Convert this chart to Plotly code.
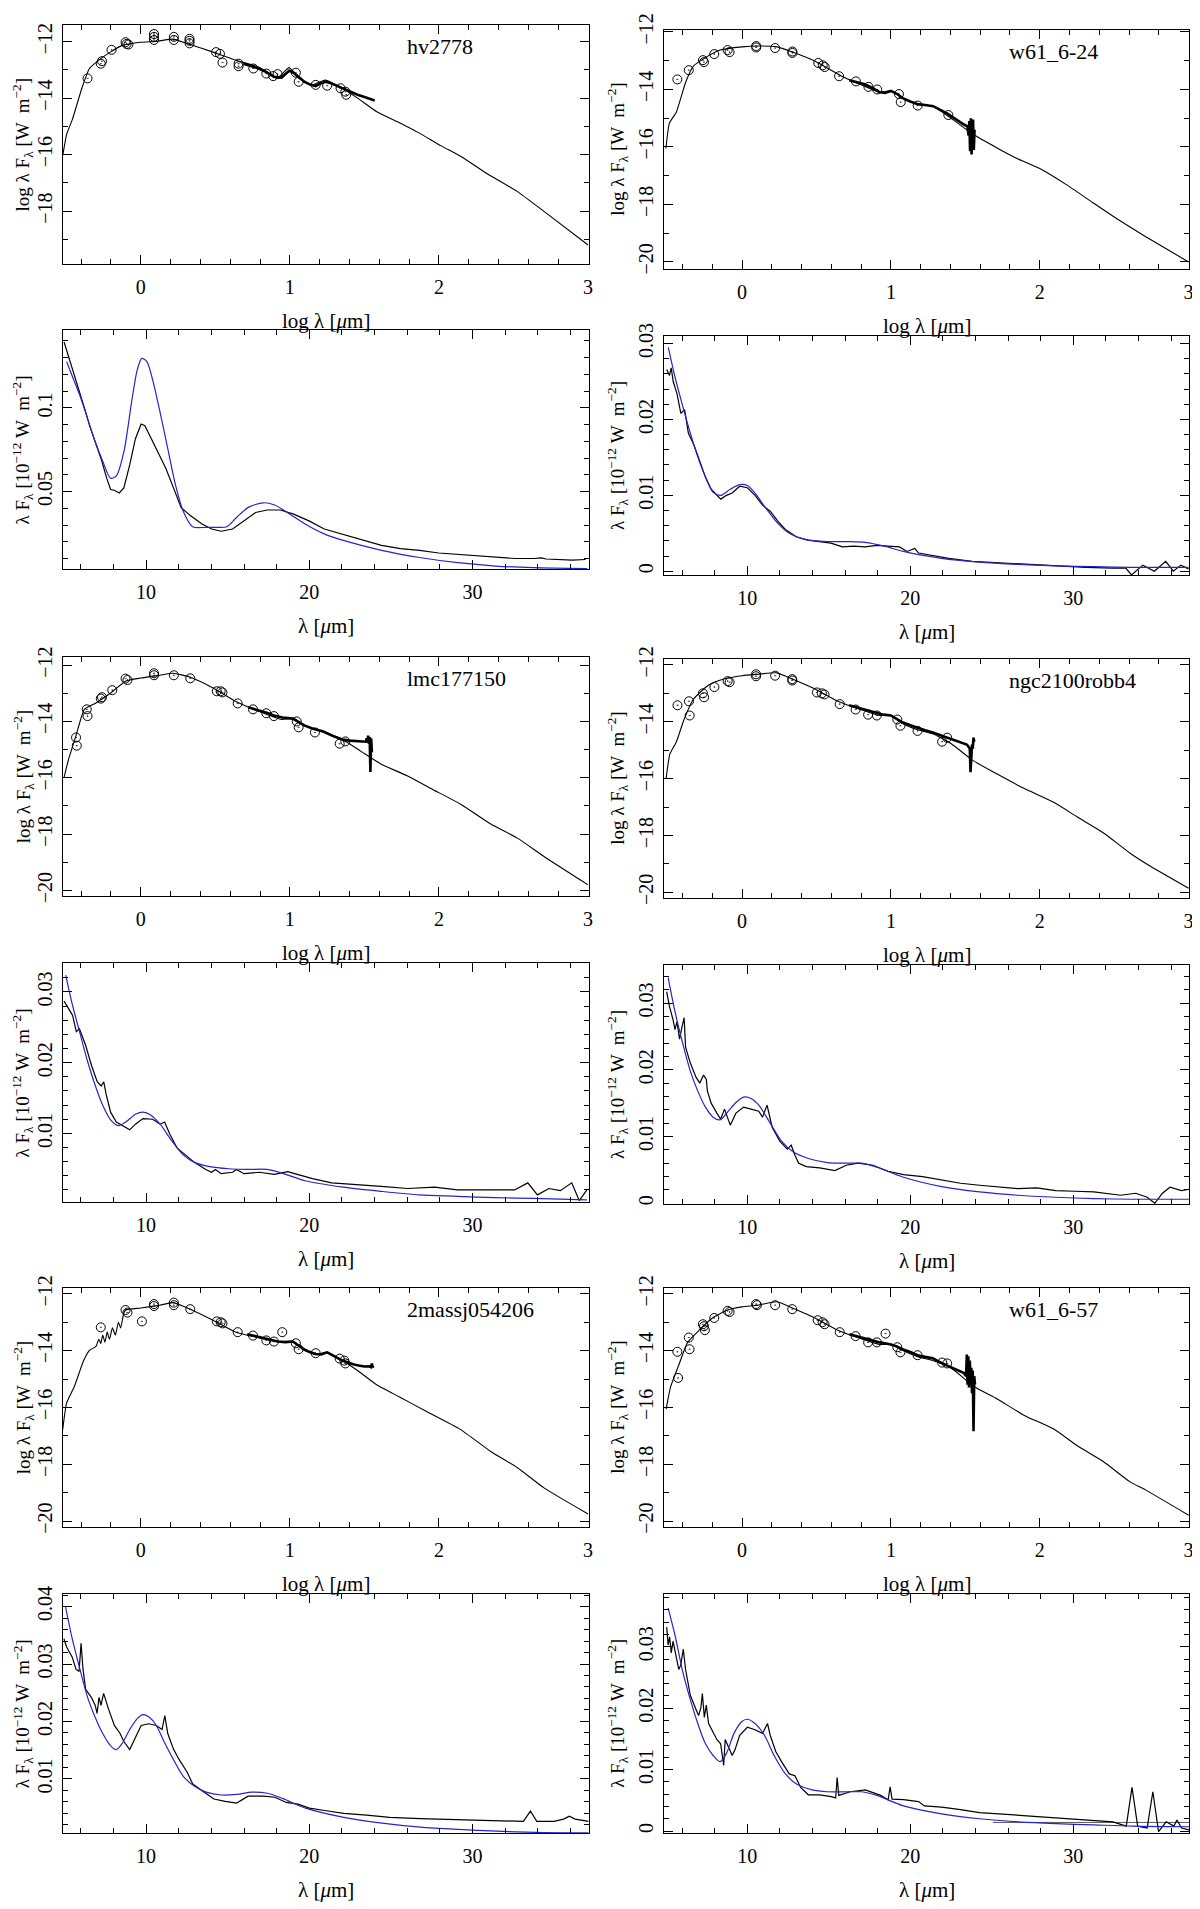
import plotly.graph_objects as go

# ---------------------------------------------------------------------------
# values (log lambda in um, log lambda F_lambda in W m^-2;
# spectra: lambda in um, lambda F_lambda in 1e-12 W m^-2)
# ---------------------------------------------------------------------------

# --- hv2778 ---
HV2778_MODEL_LOGL = [-0.523, -0.497, -0.459, -0.395, -0.344, -0.268, -0.204, -0.128, 0.0, 0.102, 0.217, 0.319,
                     0.485, 0.638, 0.79, 0.918, 0.995, 1.06, 1.148, 1.237, 1.352, 1.454, 1.58, 1.735, 1.862,
                     2.015, 2.156, 2.321, 2.526, 2.704, 3.0]
HV2778_MODEL_LOGF = [-16.03, -15.28, -14.76, -13.65, -12.95, -12.6, -12.37, -12.14, -12.02, -11.99, -11.91, -12.08,
                     -12.37, -12.66, -12.9, -13.27, -12.92, -13.3, -13.53, -13.36, -13.65, -14.0, -14.47, -14.87,
                     -15.22, -15.69, -16.09, -16.67, -17.31, -18.01, -19.2]
HV2778_IRS_LOGL = [0.689, 0.74, 0.791, 0.843, 0.893, 0.944, 0.995, 1.02, 1.046, 1.097, 1.135, 1.173, 1.205, 1.237,
                   1.27, 1.301, 1.34, 1.378, 1.415, 1.454, 1.5, 1.54, 1.569]
HV2778_IRS_LOGF = [-12.78, -12.86, -12.95, -13.08, -13.24, -13.27, -13.03, -13.08, -13.19, -13.42, -13.52, -13.57,
                   -13.48, -13.42, -13.46, -13.53, -13.62, -13.71, -13.8, -13.88, -13.96, -14.03, -14.08]
HV2778_PHOT_LOGL = [-0.357, -0.268, -0.26, -0.196, -0.102, -0.095, -0.083, 0.089, 0.089, 0.089, 0.222, 0.222,
                    0.327, 0.327, 0.327, 0.505, 0.531, 0.548, 0.656, 0.656, 0.755, 0.842, 0.888, 0.918, 1.04,
                    1.059, 1.173, 1.25, 1.34, 1.372, 1.378]
HV2778_PHOT_LOGF = [-13.3, -12.78, -12.69, -12.29, -12.02, -12.08, -12.1, -11.73, -11.83, -11.94, -11.83, -11.94,
                    -11.9, -11.97, -12.06, -12.37, -12.43, -12.74, -12.78, -12.87, -12.95, -13.13, -13.22, -13.15,
                    -13.1, -13.42, -13.53, -13.56, -13.65, -13.77, -13.88]
HV2778_SPEC_WL = [4.98, 5.14, 5.37, 5.61, 5.96, 6.31, 6.54, 6.89, 7.24, 7.59, 7.83, 8.06, 8.36, 8.64, 9.0, 9.35,
                  9.7, 9.93, 10.28, 10.75, 11.21, 11.68, 12.15, 12.73, 13.43, 14.02, 14.6, 15.3, 16.0, 16.71,
                  17.41, 18.22, 19.04, 19.98, 20.91, 22.08, 23.25, 24.42, 25.58, 26.75, 27.92, 29.09, 30.26,
                  31.42, 32.59, 33.76, 34.2, 34.5, 34.93, 36.1, 36.92]
HV2778_SPEC_FLUX = [0.1394, 0.1345, 0.1267, 0.1188, 0.109, 0.0973, 0.0894, 0.0796, 0.0698, 0.058, 0.0512, 0.0508,
                    0.0492, 0.0522, 0.0659, 0.0816, 0.0904, 0.0894, 0.0825, 0.0737, 0.0639, 0.0522, 0.0404,
                    0.0355, 0.0306, 0.0276, 0.0263, 0.0276, 0.0325, 0.0375, 0.039, 0.039, 0.0365, 0.0325, 0.0276,
                    0.0243, 0.0208, 0.0178, 0.0159, 0.0149, 0.0133, 0.0125, 0.0114, 0.0106, 0.01, 0.01, 0.0104,
                    0.0097, 0.0094, 0.009, 0.0094]
HV2778_FIT_WL = [5.14, 5.49, 5.96, 6.43, 6.89, 7.36, 7.83, 8.18, 8.64, 9.11, 9.46, 9.74, 10.05, 10.4, 10.86, 11.33,
                 11.8, 12.27, 12.85, 13.67, 14.37, 14.95, 15.54, 16.24, 17.17, 17.87, 18.81, 19.74, 20.91, 22.08,
                 24.42, 26.75, 29.09, 31.42, 33.76, 37.03]
HV2778_FIT_FLUX = [0.1276, 0.1188, 0.1071, 0.0933, 0.0796, 0.0678, 0.058, 0.0594, 0.0737, 0.1031, 0.1227, 0.1296,
                   0.1276, 0.1169, 0.0973, 0.0757, 0.0541, 0.0384, 0.029, 0.0286, 0.0286, 0.029, 0.0345, 0.0404,
                   0.0433, 0.042, 0.0365, 0.0306, 0.0247, 0.0208, 0.0149, 0.0106, 0.0075, 0.0055, 0.0045, 0.0039]

# --- w61_6-24 ---
W6124_MODEL_LOGL = [-0.512, -0.488, -0.442, -0.379, -0.327, -0.251, -0.148, 0.0, 0.107, 0.235, 0.338, 0.491,
                    0.67, 0.824, 0.926, 1.0, 1.079, 1.18, 1.284, 1.386, 1.552, 1.719, 1.847, 2.0, 2.179, 2.358,
                    2.537, 2.69, 3.0]
W6124_MODEL_LOGF = [-16.05, -15.17, -14.79, -13.75, -13.19, -12.91, -12.63, -12.52, -12.49, -12.52, -12.7, -13.02,
                    -13.54, -13.89, -14.1, -14.05, -14.3, -14.51, -14.58, -14.93, -15.56, -16.05, -16.4, -16.75,
                    -17.31, -17.94, -18.56, -19.05, -20.0]
W6124_IRS_LOGL = [0.72, 0.77, 0.824, 0.876, 0.926, 0.96, 1.0, 1.04, 1.079, 1.13, 1.18, 1.23, 1.284, 1.335, 1.386,
                  1.425, 1.463, 1.49, 1.514, 1.522, 1.527, 1.532, 1.537, 1.542, 1.547, 1.552, 1.557, 1.562]
W6124_IRS_LOGF = [-13.68, -13.75, -13.82, -13.95, -14.1, -14.12, -14.05, -14.15, -14.3, -14.42, -14.51, -14.54,
                  -14.58, -14.72, -14.86, -15.0, -15.14, -15.22, -15.28, -15.6, -15.1, -16.15, -15.0, -16.26,
                  -15.3, -15.05, -16.1, -15.4]
W6124_PHOT_LOGL = [-0.435, -0.358, -0.263, -0.256, -0.187, -0.097, -0.084, 0.095, 0.095, 0.222, 0.338, 0.338,
                   0.512, 0.542, 0.555, 0.652, 0.765, 0.849, 0.908, 1.054, 1.066, 1.18, 1.386]
W6124_PHOT_LOGF = [-13.65, -13.33, -12.98, -13.05, -12.77, -12.63, -12.7, -12.49, -12.54, -12.56, -12.68, -12.73,
                   -13.08, -13.16, -13.22, -13.54, -13.72, -13.91, -14.0, -14.16, -14.44, -14.56, -14.89]
W6124_SPEC_WL = [5.05, 5.22, 5.33, 5.45, 5.68, 5.92, 6.15, 6.38, 6.73, 7.08, 7.43, 7.78, 8.13, 8.37, 8.72, 9.07,
                 9.53, 10.0, 10.47, 10.93, 11.4, 11.87, 12.33, 13.03, 13.73, 14.43, 15.13, 15.83, 16.53, 17.23,
                 17.93, 18.63, 19.33, 19.8, 20.27, 20.5, 21.2, 22.37, 23.77, 25.4, 27.04, 28.9, 30.77, 32.4,
                 33.22, 33.57, 34.27, 34.97, 35.67, 36.14, 36.6, 37.07]
W6124_SPEC_FLUX = [0.0266, 0.0258, 0.0268, 0.025, 0.0234, 0.0208, 0.0213, 0.0182, 0.0166, 0.0145, 0.0124, 0.0108,
                   0.01, 0.0095, 0.01, 0.0103, 0.0112, 0.011, 0.01, 0.0087, 0.0079, 0.0066, 0.0055, 0.0045,
                   0.0041, 0.0039, 0.0037, 0.0032, 0.0033, 0.0032, 0.0034, 0.0033, 0.0032, 0.0026, 0.003, 0.0024,
                   0.0021, 0.0017, 0.0013, 0.0011, 0.0009, 0.0007, 0.0005, 0.0004, 0.0004, -0.0005, 0.0008, 0.0,
                   0.0013, 0.0, 0.0008, 0.0003]
W6124_FIT_WL = [5.15, 5.57, 6.03, 6.5, 6.97, 7.43, 7.9, 8.37, 8.95, 9.53, 10.0, 10.47, 11.17, 11.87, 12.57, 13.5,
                14.9, 16.3, 17.23, 18.4, 19.57, 21.9, 24.24, 26.57, 28.9, 31.24, 33.57, 37.07]
W6124_FIT_FLUX = [0.0295, 0.0255, 0.0218, 0.0182, 0.015, 0.0124, 0.0104, 0.01, 0.0108, 0.0114, 0.0113, 0.0103,
                  0.0082, 0.0063, 0.005, 0.0042, 0.0039, 0.0039, 0.0038, 0.0033, 0.0026, 0.0017, 0.0012, 0.0009,
                  0.0007, 0.0006, 0.0005, 0.0005]

# --- lmc177150 ---
LMC_MODEL_LOGL = [-0.515, -0.485, -0.434, -0.378, -0.306, -0.204, -0.102, 0.0, 0.128, 0.217, 0.332, 0.485, 0.638,
                  0.791, 0.944, 1.02, 1.097, 1.224, 1.352, 1.48, 1.607, 1.786, 1.964, 2.143, 2.347, 2.526, 2.704,
                  3.0]
LMC_MODEL_LOGF = [-16.0, -15.36, -14.5, -13.57, -13.36, -13.0, -12.57, -12.46, -12.36, -12.29, -12.43, -12.81,
                  -13.29, -13.64, -13.93, -13.9, -14.14, -14.36, -14.64, -15.07, -15.5, -15.93, -16.43, -16.93,
                  -17.64, -18.14, -18.79, -19.8]
LMC_IRS_LOGL = [0.72, 0.79, 0.85, 0.893, 0.95, 1.02, 1.06, 1.097, 1.15, 1.19, 1.224, 1.29, 1.352, 1.4, 1.454, 1.49,
                1.51, 1.515, 1.52, 1.525, 1.53, 1.535, 1.54, 1.545, 1.55]
LMC_IRS_LOGF = [-13.5, -13.6, -13.7, -13.79, -13.86, -13.9, -14.02, -14.14, -14.25, -14.3, -14.36, -14.52, -14.64,
                -14.68, -14.71, -14.72, -14.72, -14.6, -14.75, -14.5, -14.8, -14.55, -15.79, -14.6, -15.1]
LMC_PHOT_LOGL = [-0.434, -0.429, -0.362, -0.357, -0.268, -0.26, -0.191, -0.102, -0.089, 0.089, 0.089, 0.222,
                 0.332, 0.51, 0.536, 0.548, 0.65, 0.753, 0.842, 0.893, 1.046, 1.059, 1.168, 1.334, 1.372]
LMC_PHOT_LOGF = [-14.57, -14.86, -13.57, -13.81, -13.19, -13.14, -12.89, -12.48, -12.53, -12.29, -12.36, -12.36,
                 -12.47, -12.93, -12.93, -12.97, -13.36, -13.57, -13.71, -13.81, -14.0, -14.21, -14.39, -14.79,
                 -14.71]
LMC_SPEC_WL = [4.98, 5.15, 5.5, 5.73, 5.92, 6.08, 6.31, 6.66, 7.01, 7.25, 7.41, 7.55, 7.83, 8.18, 8.65, 9.0, 9.35,
               9.81, 10.4, 10.86, 11.14, 11.45, 11.91, 12.38, 12.96, 13.66, 14.01, 14.25, 14.6, 15.3, 15.53, 16.0,
               16.93, 17.86, 18.68, 19.26, 20.2, 21.37, 22.77, 24.4, 26.03, 27.67, 29.07, 30.93, 32.57, 33.38,
               33.97, 34.67, 35.37, 36.07, 36.53, 37.0]
LMC_SPEC_FLUX = [0.0287, 0.0281, 0.0267, 0.0244, 0.0248, 0.0238, 0.0224, 0.0196, 0.0173, 0.0167, 0.0173, 0.0156,
                 0.013, 0.0116, 0.011, 0.0105, 0.0113, 0.0121, 0.012, 0.0113, 0.0116, 0.0099, 0.0079, 0.007,
                 0.0059, 0.0049, 0.0045, 0.0049, 0.0043, 0.0045, 0.0049, 0.0043, 0.0045, 0.0042, 0.0046, 0.0042,
                 0.0036, 0.003, 0.0028, 0.0025, 0.0022, 0.0024, 0.002, 0.002, 0.002, 0.003, 0.0013, 0.0022,
                 0.0019, 0.003, 0.0005, 0.002]
LMC_FIT_WL = [5.08, 5.5, 5.96, 6.43, 6.9, 7.36, 7.83, 8.3, 8.76, 9.35, 9.81, 10.28, 10.86, 11.56, 12.26, 12.96,
              13.9, 15.06, 16.23, 17.4, 18.56, 19.73, 22.07, 24.4, 26.73, 29.07, 31.4, 33.73, 37.0]
LMC_FIT_FLUX = [0.0324, 0.0281, 0.0241, 0.0201, 0.0167, 0.0139, 0.0119, 0.0111, 0.0116, 0.0127, 0.013, 0.0126,
                0.0113, 0.009, 0.007, 0.0059, 0.0053, 0.005, 0.0049, 0.0049, 0.0042, 0.0033, 0.0024, 0.0018,
                0.0013, 0.0011, 0.0009, 0.0008, 0.0006]

# --- ngc2100robb4 ---
NGC_MODEL_LOGL = [-0.51, -0.485, -0.441, -0.39, -0.327, -0.224, -0.122, 0.0, 0.107, 0.235, 0.337, 0.49, 0.643,
                  0.796, 0.923, 1.0, 1.077, 1.179, 1.281, 1.408, 1.548, 1.714, 1.893, 2.097, 2.25, 2.429, 2.607,
                  2.735, 3.0]
NGC_MODEL_LOGF = [-15.99, -15.13, -14.7, -13.92, -13.21, -12.71, -12.5, -12.38, -12.33, -12.28, -12.5, -12.85,
                  -13.28, -13.57, -13.78, -13.78, -14.06, -14.28, -14.42, -14.78, -15.35, -15.84, -16.34, -16.84,
                  -17.34, -17.91, -18.62, -19.05, -19.85]
NGC_IRS_LOGL = [0.719, 0.76, 0.8, 0.85, 0.9, 0.95, 1.0, 1.04, 1.077, 1.13, 1.179, 1.23, 1.281, 1.345, 1.408, 1.46,
                1.51, 1.525, 1.53, 1.535, 1.54, 1.545, 1.55, 1.555, 1.56]
NGC_IRS_LOGF = [-13.42, -13.48, -13.52, -13.6, -13.68, -13.75, -13.78, -13.9, -14.02, -14.12, -14.22, -14.3,
                -14.38, -14.5, -14.63, -14.72, -14.8, -14.9, -14.95, -15.77, -15.1, -14.8, -14.95, -14.56, -14.7]
NGC_PHOT_LOGL = [-0.434, -0.357, -0.352, -0.263, -0.255, -0.186, -0.097, -0.084, 0.094, 0.094, 0.222, 0.337,
                 0.337, 0.503, 0.536, 0.554, 0.656, 0.763, 0.847, 0.906, 1.043, 1.064, 1.179, 1.344, 1.378]
NGC_PHOT_LOGF = [-13.42, -13.28, -13.78, -13.0, -13.14, -12.78, -12.57, -12.61, -12.33, -12.4, -12.38, -12.5,
                 -12.55, -12.97, -13.0, -13.04, -13.38, -13.57, -13.75, -13.78, -13.92, -14.14, -14.32, -14.7,
                 -14.56]
NGC_SPEC_WL = [5.05, 5.21, 5.44, 5.56, 5.68, 5.84, 5.98, 6.12, 6.21, 6.5, 6.85, 7.08, 7.31, 7.48, 7.55, 7.78, 8.13,
               8.36, 8.6, 8.95, 9.3, 9.77, 10.23, 10.7, 10.93, 11.21, 11.52, 11.99, 12.45, 12.69, 12.92, 13.15,
               13.62, 14.44, 15.37, 16.07, 16.78, 17.71, 18.64, 19.58, 20.75, 21.92, 23.08, 24.25, 25.42, 26.59,
               27.76, 28.93, 30.09, 31.26, 32.9, 33.83, 34.53, 35.0, 35.47, 35.93, 36.64, 37.1]
NGC_SPEC_FLUX = [0.0317, 0.0296, 0.0275, 0.026, 0.0272, 0.0246, 0.0263, 0.0278, 0.0234, 0.021, 0.0189, 0.018,
                 0.0192, 0.0186, 0.0168, 0.015, 0.0135, 0.0126, 0.0141, 0.0117, 0.0135, 0.0144, 0.0141, 0.0138,
                 0.0129, 0.0147, 0.0114, 0.0093, 0.0081, 0.0087, 0.0072, 0.006, 0.0055, 0.0053, 0.0049, 0.0057,
                 0.006, 0.0057, 0.0048, 0.0043, 0.004, 0.0035, 0.003, 0.0027, 0.0024, 0.0022, 0.0023, 0.0019,
                 0.0018, 0.0017, 0.0012, 0.0015, 0.0009, 0.0, 0.0015, 0.0024, 0.0019, 0.0021]
NGC_FIT_WL = [5.14, 5.56, 6.03, 6.5, 6.96, 7.43, 7.9, 8.32, 8.83, 9.3, 9.77, 10.23, 10.7, 11.4, 12.1, 12.8, 13.74,
              14.91, 16.07, 17.01, 17.94, 19.58, 21.92, 24.25, 26.59, 28.93, 31.26, 33.6, 37.1]
NGC_FIT_FLUX = [0.0338, 0.0287, 0.024, 0.0198, 0.0168, 0.0144, 0.0129, 0.0125, 0.0138, 0.0151, 0.0159, 0.0157,
                0.0147, 0.012, 0.0093, 0.0077, 0.0067, 0.0061, 0.006, 0.006, 0.0054, 0.0039, 0.0025, 0.0017,
                0.0012, 0.0009, 0.0007, 0.0006, 0.0006]

# --- 2massj054206 ---
MASS_MODEL_LOGL = [-0.523, -0.497, -0.446, -0.383, -0.344, -0.3, -0.281, -0.268, -0.255, -0.24, -0.225, -0.21,
                   -0.19, -0.17, -0.15, -0.135, -0.115, -0.102, 0.0, 0.128, 0.217, 0.332, 0.485, 0.638, 0.816,
                   0.918, 1.02, 1.097, 1.173, 1.25, 1.352, 1.454, 1.582, 1.735, 1.913, 2.143, 2.347, 2.526, 2.704,
                   3.0]
MASS_MODEL_LOGF = [-16.77, -15.84, -15.27, -14.35, -13.99, -13.85, -13.6, -13.75, -13.45, -13.7, -13.35, -13.6,
                   -13.2, -13.45, -13.0, -13.2, -12.7, -12.57, -12.5, -12.4, -12.31, -12.54, -12.93, -13.35,
                   -13.57, -13.68, -13.68, -13.99, -14.14, -14.06, -14.35, -14.7, -15.2, -15.63, -16.13, -16.77,
                   -17.55, -18.12, -18.83, -19.75]
MASS_IRS_LOGL = [0.714, 0.77, 0.82, 0.87, 0.918, 0.97, 1.02, 1.06, 1.097, 1.135, 1.173, 1.21, 1.25, 1.3, 1.352,
                 1.39, 1.429, 1.47, 1.5, 1.53, 1.545, 1.55, 1.555, 1.562]
MASS_IRS_LOGF = [-13.42, -13.5, -13.57, -13.62, -13.68, -13.7, -13.68, -13.83, -13.96, -14.05, -14.12, -14.13,
                 -14.06, -14.2, -14.35, -14.42, -14.49, -14.53, -14.56, -14.55, -14.58, -14.45, -14.58, -14.54]
MASS_PHOT_LOGL = [-0.268, -0.102, -0.089, 0.008, 0.089, 0.089, 0.222, 0.222, 0.332, 0.51, 0.536, 0.548, 0.65,
                  0.753, 0.842, 0.893, 0.949, 1.04, 1.059, 1.173, 1.334, 1.365, 1.372]
MASS_PHOT_LOGF = [-13.18, -12.57, -12.66, -12.97, -12.36, -12.43, -12.31, -12.4, -12.54, -12.97, -13.0, -13.04,
                  -13.35, -13.47, -13.64, -13.68, -13.35, -13.74, -13.95, -14.09, -14.28, -14.35, -14.45]
MASS_SPEC_WL = [4.97, 5.13, 5.48, 5.71, 5.9, 6.02, 6.14, 6.3, 6.65, 6.89, 7.0, 7.12, 7.24, 7.4, 7.71, 8.06, 8.41,
                8.64, 9.0, 9.23, 9.7, 10.16, 10.63, 10.98, 11.15, 11.33, 11.69, 12.04, 12.51, 12.86, 13.21, 13.68,
                14.15, 14.85, 15.55, 16.25, 17.19, 17.89, 18.59, 19.3, 20.0, 20.94, 22.11, 23.51, 24.92, 26.79,
                29.13, 31.48, 33.11, 33.54, 33.93, 34.99, 35.57, 35.92, 36.28, 37.1]
MASS_SPEC_FLUX = [0.0344, 0.033, 0.0312, 0.0291, 0.0287, 0.0336, 0.0291, 0.0256, 0.0242, 0.0228, 0.0214, 0.0242,
                  0.0228, 0.0249, 0.0221, 0.0193, 0.0179, 0.0165, 0.0151, 0.0165, 0.0193, 0.0196, 0.0193, 0.0186,
                  0.021, 0.0179, 0.0151, 0.0133, 0.0112, 0.0091, 0.0084, 0.0073, 0.0065, 0.0061, 0.0058, 0.007,
                  0.007, 0.0068, 0.0059, 0.0056, 0.0049, 0.0045, 0.004, 0.0037, 0.0033, 0.0031, 0.0029, 0.0027,
                  0.0026, 0.0044, 0.0026, 0.0026, 0.003, 0.0035, 0.003, 0.0026]
MASS_FIT_WL = [5.06, 5.48, 5.95, 6.42, 6.89, 7.35, 7.82, 8.17, 8.52, 9.0, 9.46, 9.81, 10.16, 10.63, 11.1, 11.69,
               12.27, 12.97, 13.68, 14.61, 15.55, 16.49, 17.42, 18.36, 19.77, 22.11, 24.45, 26.79, 29.13, 31.48,
               33.82, 37.1]
MASS_FIT_FLUX = [0.0401, 0.0344, 0.0291, 0.0242, 0.0207, 0.0179, 0.0158, 0.0151, 0.0161, 0.0186, 0.0205, 0.0212,
                 0.0208, 0.0193, 0.0165, 0.0133, 0.0105, 0.0087, 0.0077, 0.0072, 0.0073, 0.0077, 0.0075, 0.0066,
                 0.0049, 0.0033, 0.0023, 0.0016, 0.0012, 0.0009, 0.0007, 0.0006]

# --- w61_6-57 ---
W6157_MODEL_LOGL = [-0.51, -0.48, -0.429, -0.366, -0.288, -0.199, -0.097, 0.0, 0.107, 0.235, 0.337, 0.49, 0.643,
                    0.796, 0.923, 1.0, 1.077, 1.179, 1.281, 1.408, 1.561, 1.714, 1.893, 2.097, 2.25, 2.429, 2.607,
                    2.71, 3.0]
W6157_MODEL_LOGF = [-16.06, -15.27, -14.56, -13.71, -13.28, -12.85, -12.57, -12.46, -12.4, -12.28, -12.5, -12.85,
                    -13.28, -13.57, -13.78, -13.78, -13.99, -14.21, -14.35, -14.63, -15.27, -15.7, -16.27, -16.77,
                    -17.34, -17.91, -18.62, -18.9, -19.79]
W6157_IRS_LOGL = [0.721, 0.76, 0.8, 0.85, 0.926, 0.96, 1.0, 1.04, 1.077, 1.13, 1.179, 1.23, 1.281, 1.345, 1.408,
                  1.45, 1.488, 1.505, 1.51, 1.515, 1.52, 1.525, 1.53, 1.535, 1.54, 1.545, 1.55, 1.555, 1.56, 1.565]
W6157_IRS_LOGF = [-13.42, -13.48, -13.52, -13.6, -13.71, -13.74, -13.78, -13.85, -13.95, -14.05, -14.16, -14.22,
                  -14.27, -14.45, -14.6, -14.7, -14.78, -14.9, -14.14, -15.2, -14.2, -15.3, -14.35, -15.0, -14.6,
                  -15.5, -14.7, -16.84, -14.9, -15.2]
W6157_PHOT_LOGL = [-0.435, -0.43, -0.358, -0.353, -0.263, -0.256, -0.25, -0.187, -0.097, -0.084, 0.094, 0.1,
                   0.222, 0.337, 0.508, 0.541, 0.554, 0.656, 0.763, 0.847, 0.906, 0.964, 1.043, 1.064, 1.179,
                   1.344, 1.378]
W6157_PHOT_LOGF = [-14.04, -14.96, -13.54, -13.95, -13.07, -13.14, -13.28, -12.85, -12.6, -12.64, -12.36, -12.4,
                   -12.4, -12.54, -12.93, -13.0, -13.07, -13.35, -13.49, -13.71, -13.71, -13.4, -13.88, -14.06,
                   -14.16, -14.42, -14.45]
W6157_SPEC_WL = [5.05, 5.14, 5.23, 5.33, 5.44, 5.68, 5.79, 5.91, 6.07, 6.21, 6.5, 6.85, 7.01, 7.15, 7.24, 7.36,
                 7.48, 7.62, 7.9, 8.13, 8.36, 8.55, 8.64, 8.88, 9.07, 9.25, 9.53, 10.0, 10.47, 10.93, 11.24, 11.4,
                 11.75, 12.1, 12.57, 12.92, 13.27, 13.74, 14.44, 15.14, 15.42, 15.51, 15.61, 16.31, 17.24, 18.18,
                 18.64, 18.76, 18.88, 19.58, 20.51, 20.86, 21.92, 23.08, 24.25, 25.42, 26.59, 27.76, 28.93, 30.09,
                 31.26, 32.43, 33.25, 33.6, 33.95, 34.53, 34.88, 35.23, 35.7, 36.17, 36.36, 36.64, 37.1]
W6157_SPEC_FLUX = [0.0332, 0.0303, 0.0316, 0.029, 0.0309, 0.0276, 0.0263, 0.027, 0.0296, 0.0263, 0.0221, 0.0198,
                   0.0188, 0.0201, 0.0224, 0.0185, 0.0205, 0.0175, 0.0162, 0.0149, 0.0142, 0.0107, 0.0149,
                   0.0136, 0.0123, 0.0133, 0.0156, 0.0169, 0.0165, 0.0159, 0.0175, 0.0156, 0.0129, 0.0113,
                   0.0093, 0.009, 0.0071, 0.0059, 0.0059, 0.0056, 0.0054, 0.0087, 0.0058, 0.0064, 0.0067, 0.0058,
                   0.0051, 0.0072, 0.0052, 0.0051, 0.0048, 0.0041, 0.0039, 0.0035, 0.003, 0.0028, 0.0026, 0.0024,
                   0.0022, 0.002, 0.0018, 0.0015, 0.0008, 0.0071, 0.0008, 0.0005, 0.0064, -0.0001, 0.0015, 0.0008,
                   0.0018, 0.0005, 0.0002]
W6157_FIT_WL = [5.14, 5.56, 6.03, 6.5, 6.96, 7.43, 7.9, 8.32, 8.71, 9.18, 9.65, 10.0, 10.47, 11.05, 11.64, 12.34,
                13.04, 13.97, 14.91, 16.07, 17.01, 17.94, 19.58, 21.92, 24.25, 26.59, 28.93, 31.26, 33.6, 37.1]
W6157_FIT_FLUX = [0.0363, 0.0319, 0.026, 0.0214, 0.0175, 0.0142, 0.0123, 0.0113, 0.0126, 0.0159, 0.0178, 0.0182,
                  0.0175, 0.0156, 0.0123, 0.0093, 0.0076, 0.0067, 0.0064, 0.0064, 0.0064, 0.0058, 0.0041, 0.0028,
                  0.002, 0.0015, 0.0012, 0.001, 0.0008, 0.0007]
W6157_LEVEL_WL = [25.07, 37.1]
W6157_LEVEL_FLUX = [0.0014, 0.0014]

STAR_NAMES = ["hv2778", "w61_6-24", "lmc177150", "ngc2100robb4", "2massj054206", "w61_6-57"]
SED_YRANGES = [[-19.87, -11.41], [-20.24, -11.93], [-20.19, -11.71], [-20.19, -11.79], [-20.2, -11.79],
               [-20.2, -11.79]]
SPEC_YRANGES = [[0.0037, 0.1465], [-0.0005, 0.031], [0.0003, 0.0341], [-0.0001, 0.0357], [0.0006, 0.0422],
                [-0.0003, 0.0386]]
SPEC_YTICK = [(0.05, 0.01), (0.01, 0.002), (0.01, 0.002), (0.01, 0.002), (0.01, 0.002), (0.01, 0.002)]

stars = [
    dict(model=(HV2778_MODEL_LOGL, HV2778_MODEL_LOGF), irs=(HV2778_IRS_LOGL, HV2778_IRS_LOGF),
         phot=(HV2778_PHOT_LOGL, HV2778_PHOT_LOGF), spec=(HV2778_SPEC_WL, HV2778_SPEC_FLUX),
         fit=(HV2778_FIT_WL, HV2778_FIT_FLUX)),
    dict(model=(W6124_MODEL_LOGL, W6124_MODEL_LOGF), irs=(W6124_IRS_LOGL, W6124_IRS_LOGF),
         phot=(W6124_PHOT_LOGL, W6124_PHOT_LOGF), spec=(W6124_SPEC_WL, W6124_SPEC_FLUX),
         fit=(W6124_FIT_WL, W6124_FIT_FLUX)),
    dict(model=(LMC_MODEL_LOGL, LMC_MODEL_LOGF), irs=(LMC_IRS_LOGL, LMC_IRS_LOGF),
         phot=(LMC_PHOT_LOGL, LMC_PHOT_LOGF), spec=(LMC_SPEC_WL, LMC_SPEC_FLUX),
         fit=(LMC_FIT_WL, LMC_FIT_FLUX)),
    dict(model=(NGC_MODEL_LOGL, NGC_MODEL_LOGF), irs=(NGC_IRS_LOGL, NGC_IRS_LOGF),
         phot=(NGC_PHOT_LOGL, NGC_PHOT_LOGF), spec=(NGC_SPEC_WL, NGC_SPEC_FLUX),
         fit=(NGC_FIT_WL, NGC_FIT_FLUX)),
    dict(model=(MASS_MODEL_LOGL, MASS_MODEL_LOGF), irs=(MASS_IRS_LOGL, MASS_IRS_LOGF),
         phot=(MASS_PHOT_LOGL, MASS_PHOT_LOGF), spec=(MASS_SPEC_WL, MASS_SPEC_FLUX),
         fit=(MASS_FIT_WL, MASS_FIT_FLUX)),
    dict(model=(W6157_MODEL_LOGL, W6157_MODEL_LOGF), irs=(W6157_IRS_LOGL, W6157_IRS_LOGF),
         phot=(W6157_PHOT_LOGL, W6157_PHOT_LOGF), spec=(W6157_SPEC_WL, W6157_SPEC_FLUX),
         fit=(W6157_FIT_WL, W6157_FIT_FLUX), level=(W6157_LEVEL_WL, W6157_LEVEL_FLUX)),
]

# ---------------------------------------------------------------------------
# page geometry, in screenshot pixels.  The page body keeps its default 8px
# margin, so the figure itself is drawn 8px smaller and shifted by that much.
# ---------------------------------------------------------------------------
PAGE_W, PAGE_H = 1200, 1909
BODY_MARGIN = 8
FIG_W, FIG_H = PAGE_W - BODY_MARGIN, PAGE_H - BODY_MARGIN
COL_X = [(63, 591), (667, 1194)]
ROW_TOP = [[8, 317, 648, 958, 1287, 1597], [13, 323, 650, 960, 1287, 1597]]
PANEL_H = 242
YTITLE_X = [23, 620]

FONT = "Liberation Serif"
BLUE = "rgb(36,36,205)"


def px_x(p):
    return (p - BODY_MARGIN) / FIG_W


def px_y(p):
    return 1 - (p - BODY_MARGIN) / FIG_H


def axis_base(**kw):
    d = dict(showline=True, linecolor="black", linewidth=1, mirror="ticks", ticks="inside", ticklen=9,
             tickwidth=1, tickcolor="black", showgrid=False, zeroline=False, ticklabeloverflow="allow",
             tickfont=dict(family=FONT, size=20, color="black"),
             minor=dict(ticks="inside", ticklen=5, tickwidth=1, tickcolor="black", showgrid=False))
    d.update(kw)
    return d


fig = go.Figure()
annotations = []
layout_axes = {}

for i, s in enumerate(stars):
    col = i % 2
    pair = i // 2
    x0, x1 = COL_X[col]
    for kind in ("sed", "spec"):
        row = 2 * pair + (0 if kind == "sed" else 1)
        k = 2 * i + (1 if kind == "sed" else 2)
        top = ROW_TOP[col][row]
        bot = top + PANEL_H
        xa = "xaxis" if k == 1 else f"xaxis{k}"
        ya = "yaxis" if k == 1 else f"yaxis{k}"
        xref = "x" if k == 1 else f"x{k}"
        yref = "y" if k == 1 else f"y{k}"
        xdom = [px_x(x0), px_x(x1)]
        ydom = [px_y(bot), px_y(top)]
        if kind == "sed":
            layout_axes[xa] = axis_base(domain=xdom, anchor=yref, range=[-0.523, 3.003], tick0=0, dtick=1,
                                        minor_dtick=0.2, minor_tick0=0, ticklabelstandoff=5)
            layout_axes[ya] = axis_base(domain=ydom, anchor=xref, range=SED_YRANGES[i], tick0=0, dtick=2,
                                        minor_dtick=1, minor_tick0=0, tickangle=-90, ticklabelstandoff=2)
            fig.add_trace(go.Scatter(x=s["model"][0], y=s["model"][1], mode="lines",
                                     line=dict(color="black", width=1.1, shape="spline", smoothing=0.5),
                                     xaxis=xref, yaxis=yref))
            fig.add_trace(go.Scatter(x=s["irs"][0], y=s["irs"][1], mode="lines",
                                     line=dict(color="black", width=2.6), xaxis=xref, yaxis=yref))
            fig.add_trace(go.Scatter(x=s["phot"][0], y=s["phot"][1], mode="markers",
                                     marker=dict(symbol="circle-open-dot", size=9, color="black",
                                                 line=dict(width=1, color="black")),
                                     xaxis=xref, yaxis=yref))
            annotations.append(dict(text=STAR_NAMES[i], x=px_x(x0 + 344), y=px_y(top + 22), xref="paper",
                                    yref="paper", xanchor="left", yanchor="middle", showarrow=False,
                                    font=dict(family=FONT, size=22, color="black")))
            xtitle = "log λ [<i>μ</i>m]"
            ytitle = "log λ F<sub>λ</sub> [W  m<sup>−2</sup>]"
        else:
            major, minor = SPEC_YTICK[i]
            layout_axes[xa] = axis_base(domain=xdom, anchor=yref, range=[4.9, 37.1], tick0=0, dtick=10,
                                        minor_dtick=2, minor_tick0=0, ticklabelstandoff=5)
            layout_axes[ya] = axis_base(domain=ydom, anchor=xref, range=SPEC_YRANGES[i], tick0=0, dtick=major,
                                        minor_dtick=minor, minor_tick0=0, tickangle=-90, ticklabelstandoff=2)
            if "level" in s:
                fig.add_trace(go.Scatter(x=s["level"][0], y=s["level"][1], mode="lines",
                                         line=dict(color="rgb(90,90,90)", width=1), xaxis=xref, yaxis=yref))
            fig.add_trace(go.Scatter(x=s["spec"][0], y=s["spec"][1], mode="lines",
                                     line=dict(color="black", width=1.2), xaxis=xref, yaxis=yref))
            fig.add_trace(go.Scatter(x=s["fit"][0], y=s["fit"][1], mode="lines",
                                     line=dict(color=BLUE, width=1.2, shape="spline", smoothing=0.8),
                                     xaxis=xref, yaxis=yref))
            xtitle = "λ [<i>μ</i>m]"
            ytitle = "λ F<sub>λ</sub> [10<sup>−12</sup> W  m<sup>−2</sup>]"
        annotations.append(dict(text=xtitle, x=px_x((x0 + x1) / 2), y=px_y(bot + 58), xref="paper",
                                yref="paper", xanchor="center", yanchor="middle", showarrow=False,
                                font=dict(family=FONT, size=21, color="black")))
        annotations.append(dict(text=ytitle, x=px_x(YTITLE_X[col]), y=px_y((top + bot) / 2), xref="paper",
                                yref="paper", xanchor="center", yanchor="middle", showarrow=False,
                                textangle=-90, font=dict(family=FONT, size=19, color="black")))

fig.update_layout(
    width=FIG_W,
    height=FIG_H,
    margin=dict(l=0, r=0, t=0, b=0),
    paper_bgcolor="white",
    plot_bgcolor="white",
    showlegend=False,
    annotations=annotations,
    **layout_axes,
)

fig.write_html("out.html")
